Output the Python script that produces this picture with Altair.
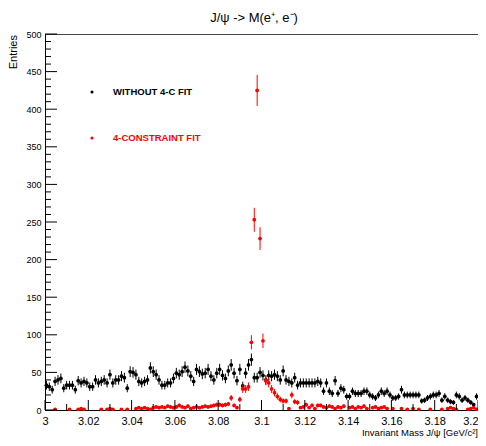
import altair as alt
import pandas as pd

# ---------------- data ----------------
x_min, x_max, n_bins = 3.0, 3.2, 150
y_min, y_max = 0, 500

black_counts = [
    33, 31, 27, 38, 40, 42, 29, 33, 33, 33,
    27, 39, 36, 38, 36, 31, 31, 40, 36, 38,
    40, 36, 47, 36, 40, 40, 45, 43, 29, 51,
    50, 47, 38, 36, 38, 40, 56, 51, 47, 40,
    33, 33, 36, 36, 42, 49, 47, 51, 57, 52,
    45, 38, 54, 51, 48, 49, 54, 45, 40, 49,
    54, 46, 42, 52, 60, 49, 39, 54, 32, 49,
    60, 67, 43, 43, 50, 46, 40, 46, 45, 47,
    45, 40, 52, 40, 38, 36, 43, 33, 36, 36,
    36, 36, 36, 36, 38, 36, 25, 36, 25, 22,
    39, 22, 29, 27, 18, 18, 25, 22, 22, 22,
    25, 25, 20, 18, 16, 20, 25, 22, 25, 20,
    16, 16, 18, 27, 20, 20, 20, 20, 20, 20,
    12, 13, 16, 18, 20, 20, 22, 13, 18, 13,
    11, 10, 20, 18, 13, 16, 13, 10, 7, 18,
]

red_counts = [
    0, 0, 0, 1, 0, 0, 0, 0, 1, 0,
    0, 1, 2, 1, 0, 0, 0, 0, 0, 1,
    0, 1, 2, 1, 0, 0, 1, 0, 1, 0,
    0, 2, 3, 2, 3, 2, 1, 3, 4, 3,
    4, 3, 5, 4, 3, 4, 6, 4, 3, 5,
    2, 3, 4, 3, 4, 5, 4, 5, 6, 7,
    7, 6, 7, 8, 16, 6, 3, 14, 28, 28,
    31, 90, 253, 425, 228, 92, 39, 36, 28, 23,
    18, 14, 12, 12, 2, 20, 11, 10, 3, 4,
    7, 3, 6, 2, 6, 6, 4, 3, 5, 4,
    2, 4, 3, 5, 0, 3, 4, 2, 4, 3,
    5, 2, 0, 3, 4, 2, 3, 4, 2, 0,
    2, 0, 0, 2, 0, 1, 0, 2, 0, 1,
    0, 0, 0, 1, 0, 0, 0, 1, 0, 2,
    3, 2, 1, 0, 0, 0, 1, 2, 3, 1,
]

x_major_ticks = [3.0, 3.02, 3.04, 3.06, 3.08, 3.1, 3.12, 3.14, 3.16, 3.18, 3.2]
x_minor_ticks = [3.01, 3.03, 3.05, 3.07, 3.09, 3.11, 3.13, 3.15, 3.17, 3.19]
y_major_ticks = [0, 50, 100, 150, 200, 250, 300, 350, 400, 450, 500]
y_minor_ticks = [v for v in range(0, 501, 10) if v % 50 != 0]

series_names = ["WITHOUT 4-C FIT", "4-CONSTRAINT FIT"]
series_colors = ["#000000", "#ff0000"]
title_text = "J/ψ -> M(e⁺, e⁻)"
x_title = "Invariant Mass J/ψ [GeV/c²]"
y_title = "Entries"

# ---------------- build tables ----------------
bin_w = (x_max - x_min) / n_bins


def hist_frame(counts, name):
    rows = []
    for i, c in enumerate(counts):
        if c <= 0:
            continue
        xc = x_min + (i + 0.5) * bin_w
        e = c ** 0.5
        rows.append(dict(x=xc, xlo=xc - bin_w / 2, xhi=xc + bin_w / 2,
                         y=c, ylo=c - e, yhi=c + e, series=name))
    return pd.DataFrame(rows)


W, H = 433, 376
FONT = "Liberation Sans, Arial, sans-serif"

last_test = "datum.value >= 3.199"
xs = alt.Scale(domain=[x_min, x_max], nice=False, zero=False)
ys = alt.Scale(domain=[y_min, y_max], nice=False)
x_axis = alt.Axis(values=x_major_ticks, format="~g", title=None, ticks=False,
                  grid=False, labelPadding=5, labelFontSize=11, labelFont=FONT,
                  labelColor="#000", domainColor="#000", labelOverlap=False,
                  labelFlush=False, labelBound=False,
                  labelAlign={"condition": {"test": last_test, "value": "right"},
                              "value": "center"})
y_axis = alt.Axis(values=y_major_ticks, title=None, ticks=False, grid=False,
                  labelPadding=4, labelFontSize=9, labelFont=FONT,
                  labelColor="#000", domainColor="#000", labelOverlap=False,
                  labelFlush=False, labelBound=False)

layers = []
for counts, name, col in zip([black_counts, red_counts], series_names, series_colors):
    df = hist_frame(counts, name)
    base = alt.Chart(df)
    layers.append(base.mark_rule(color=col, strokeWidth=1).encode(
        x=alt.X("x:Q", scale=xs, axis=x_axis),
        y=alt.Y("ylo:Q", scale=ys, axis=y_axis), y2="yhi:Q"))
    layers.append(base.mark_rule(color=col, strokeWidth=1).encode(
        x=alt.X("xlo:Q", scale=xs, axis=x_axis), x2="xhi:Q",
        y=alt.Y("y:Q", scale=ys, axis=y_axis)))
    layers.append(base.mark_circle(color=col, size=14, opacity=1).encode(
        x=alt.X("x:Q", scale=xs, axis=x_axis),
        y=alt.Y("y:Q", scale=ys, axis=y_axis)))

# inner tick marks (ROOT style)
ymaj = alt.Chart(pd.DataFrame({"v": y_major_ticks})).mark_rule(color="#000").encode(
    y=alt.Y("v:Q", scale=ys, axis=y_axis), x=alt.value(0), x2=alt.value(12))
ymin_ = alt.Chart(pd.DataFrame({"v": y_minor_ticks})).mark_rule(color="#000").encode(
    y=alt.Y("v:Q", scale=ys, axis=y_axis), x=alt.value(0), x2=alt.value(6))
xmaj = alt.Chart(pd.DataFrame({"v": x_major_ticks})).mark_rule(color="#000").encode(
    x=alt.X("v:Q", scale=xs, axis=x_axis), y=alt.value(H), y2=alt.value(H - 10))
xmin_ = alt.Chart(pd.DataFrame({"v": x_minor_ticks})).mark_rule(color="#000").encode(
    x=alt.X("v:Q", scale=xs, axis=x_axis), y=alt.value(H), y2=alt.value(H - 6))

# texts
title = alt.Chart(pd.DataFrame({"t": [title_text]})).mark_text(
    font=FONT, fontSize=13, color="#000", align="center", baseline="middle").encode(
    text="t:N", x=alt.value(209), y=alt.value(-16))
xt = alt.Chart(pd.DataFrame({"t": [x_title]})).mark_text(
    font=FONT, fontSize=9.5, color="#000", align="right", baseline="bottom").encode(
    text="t:N", x=alt.value(W), y=alt.value(H + 28))
yt = alt.Chart(pd.DataFrame({"t": [y_title]})).mark_text(
    font=FONT, fontSize=11, color="#000", align="right", baseline="middle",
    angle=270).encode(text="t:N", x=alt.value(-31), y=alt.value(1))

leg_df = pd.DataFrame({"name": series_names, "col": series_colors,
                       "py": [58, 104]})
leg_pts = alt.Chart(leg_df).mark_circle(size=10, opacity=1).encode(
    x=alt.value(47), y=alt.Y("py:Q", scale=None),
    color=alt.Color("col:N", scale=None))
leg_txt = alt.Chart(leg_df).mark_text(font=FONT, fontSize=9.5, fontWeight="bold",
                                      align="left", baseline="middle").encode(
    x=alt.value(68), y=alt.Y("py:Q", scale=None), text="name:N",
    color=alt.Color("col:N", scale=None))

chart = alt.layer(*layers, ymaj, ymin_, xmaj, xmin_, title, xt, yt, leg_pts, leg_txt).properties(
    width=W, height=H, autosize=alt.AutoSizeParams(type="none"),
    padding={"left": 37, "top": 26, "right": 0, "bottom": 28},
    background="white",
).configure_view(stroke="#444", strokeWidth=1)

chart.save("out.html", embed_options={"renderer": "svg", "actions": False})
